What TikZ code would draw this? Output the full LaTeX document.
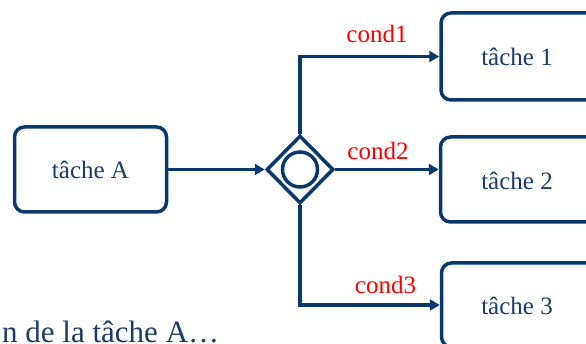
\documentclass[tikz,border=0pt]{standalone}
\usepackage{fontspec}
\setmainfont{Liberation Serif}
\usetikzlibrary{shapes.geometric,arrows.meta}
\definecolor{dblue}{RGB}{8,56,108}
\definecolor{lblue}{RGB}{25,60,105}
\begin{document}
\begin{tikzpicture}[x=1pt,y=-1pt,
  task/.style={draw=dblue, line width=3.5pt, rounded corners=10pt, fill=white,
    minimum width=152pt, minimum height=85pt, inner sep=0pt,
    text=lblue, font=\fontsize{25}{30}\selectfont},
  tasklabel/.style={text=lblue, font=\fontsize{25}{30}\selectfont},
  flow/.style={draw=dblue, line width=3.5pt, -{Triangle[length=10pt,width=11pt]}},
  condlabel/.style={text=red, font=\fontsize{25}{30}\selectfont, inner sep=0pt, anchor=base}
]
\useasboundingbox (0,0) rectangle (586,344);
\node[task] (A) at (90.5,169.5) {tâche A};
\node[task, minimum width=160pt, minimum height=87pt] (t1) at (521,56.5) {};
\node[tasklabel] (l1) at (517,56.5) {tâche 1};
\node[task, minimum width=160pt, minimum height=85pt] (t2) at (520.5,179.5) {};
\node[tasklabel] (l2) at (517,181) {tâche 2};
\node[task, minimum width=160pt, minimum height=84pt] (t3) at (521.5,305) {};
\node[tasklabel] (l3) at (517,305.5) {tâche 3};
\node[diamond, draw=dblue, line width=3.5pt, minimum width=67pt, minimum height=68pt, inner sep=0pt] (g) at (300,169.5) {};
\node[circle, draw=dblue, line width=3.5pt, minimum size=35pt, inner sep=0pt] (gc) at (g.center) {};
\draw[flow] (A.east) -- (g.west);
\draw[flow] (g.north) |- (t1.west);
\draw[flow] (g.east) -- (g.east -| t2.west);
\draw[flow] (g.south) |- (t3.west);
\node[condlabel] (c1) at (377,43) {cond1};
\node[condlabel] (c2) at (378,160) {cond2};
\node[condlabel] (c3) at (385.5,294) {cond3};
\node[text=lblue, font=\fontsize{31}{36}\selectfont, inner sep=0pt, anchor=base west] (foot) at (2,343) {n de la tâche A…};
\end{tikzpicture}
\end{document}
